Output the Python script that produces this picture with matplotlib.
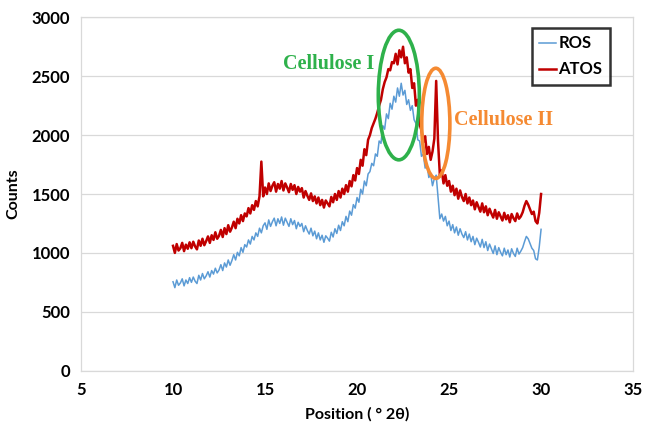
import numpy as np
import matplotlib.pyplot as plt
from matplotlib.patches import Ellipse

# scan positions, 10-30 deg 2theta at 0.1 deg step
two_theta = np.linspace(10.0, 30.0, 201)

atos_counts = [
    1060, 1000, 1075, 1020, 1040, 1085, 1015, 1070, 1035, 1090,
    1040, 1095, 1055, 1030, 1105, 1060, 1120, 1065, 1100, 1140,
    1085, 1150, 1110, 1175, 1120, 1145, 1195, 1135, 1210, 1160,
    1235, 1180, 1215, 1265, 1210, 1290, 1250, 1320, 1270, 1335,
    1310, 1380, 1335, 1405, 1365, 1440, 1395, 1480, 1775, 1480,
    1555, 1500, 1590, 1525, 1570, 1600, 1520, 1585, 1545, 1610,
    1530, 1590, 1555, 1515, 1585, 1535, 1575, 1500, 1560, 1520,
    1550, 1470, 1525, 1485, 1450, 1505, 1440, 1480, 1420, 1470,
    1405, 1450, 1385, 1445, 1420, 1395, 1475, 1430, 1500, 1450,
    1525, 1470, 1545, 1500, 1575, 1520, 1610, 1565, 1660, 1615,
    1720, 1670, 1790, 1740, 1880, 1830, 1960, 2000, 2060, 2100,
    2140, 2190, 2250, 2300, 2390, 2450, 2490, 2560, 2550, 2620,
    2610, 2690, 2600, 2720, 2660, 2750, 2610, 2660, 2530, 2560,
    2400, 2440, 2250, 2300, 2090, 2040, 1940, 1990, 1840, 1900,
    1790, 1860, 1970, 2460, 1950, 1660, 1700, 1590, 1660, 1570,
    1610, 1520, 1570, 1490, 1545, 1460, 1530, 1475, 1440, 1500,
    1420, 1470, 1405, 1445, 1370, 1430, 1390, 1350, 1420, 1345,
    1395, 1320, 1375, 1335, 1300, 1365, 1290, 1345, 1310, 1275,
    1340, 1285, 1320, 1260, 1330, 1295, 1270, 1335, 1290, 1310,
    1345, 1400, 1440, 1410, 1370, 1330, 1350, 1270, 1250, 1340,
    1500,
]

ros_counts = [
    755, 705, 770, 725, 745, 780, 720, 770, 740, 790,
    750, 795, 760, 740, 810, 770, 825, 780, 805, 840,
    795, 850, 820, 870, 830, 855, 900, 850, 915, 880,
    940, 895, 935, 985, 940, 1005, 975, 1045, 1005, 1070,
    1050, 1110, 1075, 1140, 1110, 1170, 1140, 1210, 1170, 1230,
    1255, 1200, 1280, 1225, 1265, 1295, 1230, 1290, 1250, 1305,
    1235, 1295, 1260, 1225, 1290, 1240, 1275, 1205, 1260, 1225,
    1250, 1180, 1230, 1190, 1160, 1210, 1145, 1185, 1120, 1170,
    1110, 1150, 1090, 1145, 1125, 1100, 1175, 1135, 1205, 1165,
    1235, 1190, 1265, 1230, 1310, 1265, 1355, 1320, 1410, 1380,
    1470, 1430, 1540, 1500, 1610, 1570, 1670, 1690, 1760, 1740,
    1840, 1820, 1950, 1930, 2080, 2050, 2180, 2140, 2270, 2220,
    2330, 2280, 2400, 2330, 2440, 2340, 2380, 2260, 2300, 2210,
    2250, 2130, 2100, 1960, 1950, 1820, 1840, 1720, 1750, 1640,
    1670, 1570, 1630, 1660, 1470, 1290, 1330, 1270, 1310, 1230,
    1270, 1190, 1240, 1170, 1220, 1150, 1205, 1160, 1130, 1180,
    1110, 1160, 1095, 1140, 1070, 1125, 1090, 1050, 1115, 1045,
    1095, 1020, 1075, 1035, 995, 1060, 985, 1045, 1005, 975,
    1040, 985, 1025, 965, 1035, 995, 970, 1040, 990, 1015,
    1045, 1095, 1140, 1120, 1080, 1040, 1020, 950, 940, 1050,
    1200,
]

x_ticks = [5, 10, 15, 20, 25, 30, 35]
y_ticks = [0, 500, 1000, 1500, 2000, 2500, 3000]

# (centre 2theta, centre counts, width, height) of the highlighted reflections
cell1_ring = (22.27, 2340, 2.23, 1100)
cell2_ring = (24.28, 2100, 1.53, 935)

plt.rcParams['font.family'] = ['Lato', 'DejaVu Sans']

fig = plt.figure(figsize=(6.46, 4.26), dpi=100)
ax = fig.add_axes([0.1254, 0.1298, 0.8546, 0.8296])

ax.plot(two_theta, ros_counts, color='#5B9BD5', lw=1.1, label='ROS', zorder=3)
ax.plot(two_theta, atos_counts, color='#C00000', lw=1.8, label='ATOS', zorder=2)

ax.add_patch(Ellipse(cell1_ring[:2], cell1_ring[2], cell1_ring[3], fill=False,
                     ec='#2EB14B', lw=2.6, zorder=4))
ax.add_patch(Ellipse(cell2_ring[:2], cell2_ring[2], cell2_ring[3], fill=False,
                     ec='#F58A32', lw=2.6, zorder=4))

ax.text(20.95, 2600, 'Cellulose I', color='#2EB14B', fontsize=14.5, fontweight='bold',
        family='Liberation Serif', ha='right', va='center')
ax.text(25.25, 2130, 'Cellulose II', color='#F58A32', fontsize=14.5, fontweight='bold',
        family='Liberation Serif', ha='left', va='center')

ax.set_xlim(5, 35)
ax.set_ylim(0, 3000)
ax.set_xticks(x_ticks)
ax.set_yticks(y_ticks)
ax.tick_params(length=0, labelsize=12, pad=8)
for lbl in ax.get_xticklabels() + ax.get_yticklabels():
    lbl.set_fontweight('bold')
ax.grid(axis='y', color='#D9D9D9', lw=0.9)
ax.set_axisbelow(True)
for sp in ax.spines.values():
    sp.set_color('#D9D9D9')
    sp.set_linewidth(0.9)

ax.set_xlabel('Position ( ° 2θ)', fontsize=11.5, fontweight='bold', labelpad=7)
ax.set_ylabel('Counts', fontsize=11.5, fontweight='bold', labelpad=8)

leg = ax.legend(loc='upper right', bbox_to_anchor=(0.958, 0.97), frameon=True, fancybox=False,
                handlelength=1.0, handletextpad=0.15, labelspacing=0.6, borderpad=0.45,
                borderaxespad=0.0,
                prop={'family': 'Lato', 'weight': 'bold', 'size': 12})
leg.get_frame().set_edgecolor('black')
leg.get_frame().set_linewidth(1.8)

fig.savefig('out.png', dpi=100)
